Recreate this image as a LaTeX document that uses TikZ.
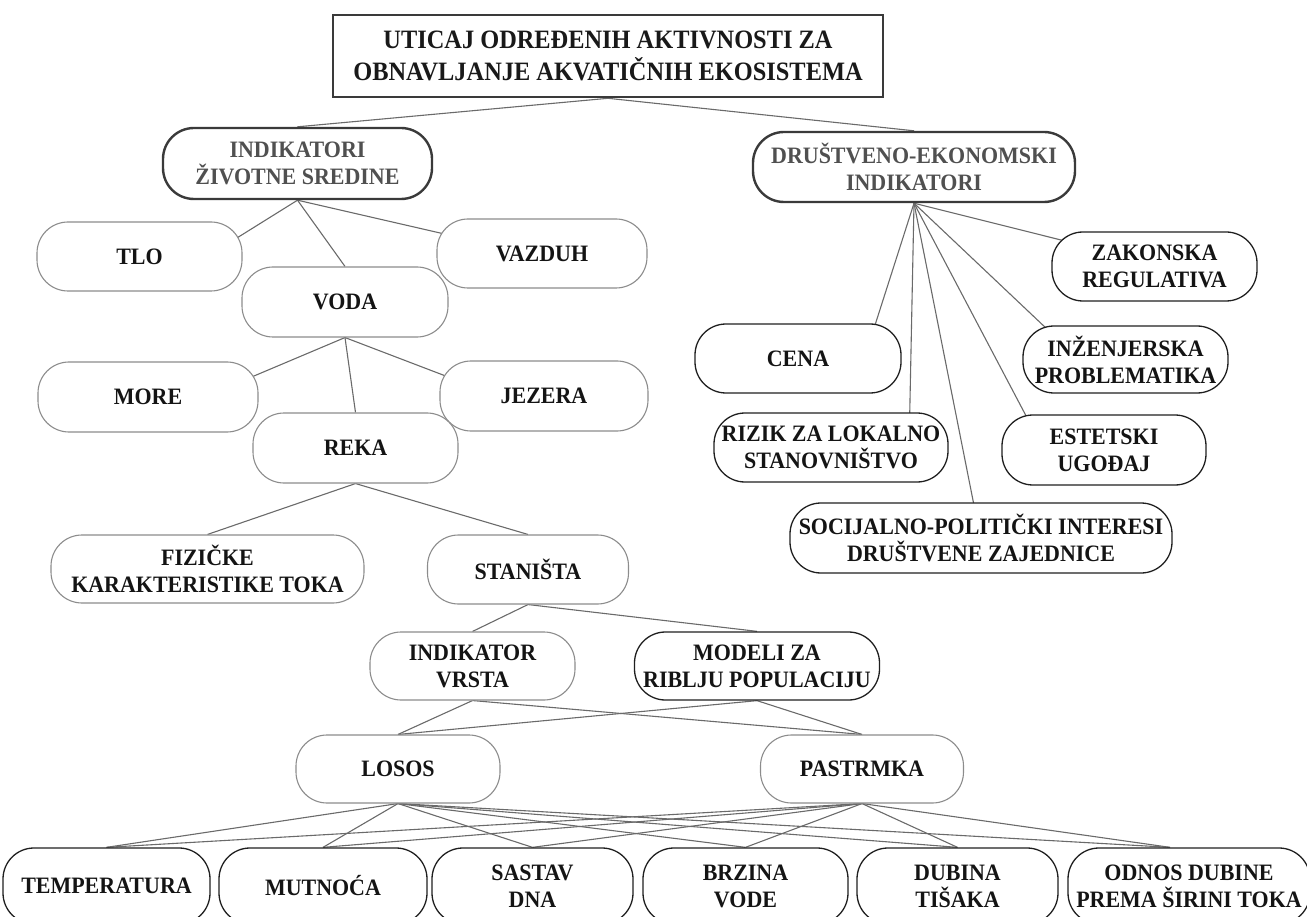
\documentclass[tikz,border=0pt]{standalone}
\usepackage{fontspec}
\setmainfont{Liberation Serif}
\newfontfamily\nodefont{Liberation Serif}[FakeStretch=0.935]
\newfontfamily\titlefont{Liberation Serif}[FakeStretch=0.92]
\usetikzlibrary{calc,backgrounds}
\definecolor{boxgray}{HTML}{8C8C8C}
\definecolor{linegray}{HTML}{6A6A6A}
\definecolor{textgray}{HTML}{505050}
\definecolor{darkedge}{HTML}{3A3A3A}
\tikzset{
  base/.style={inner sep=0pt, align=center, fill=white, rounded corners=31pt,
    font=\nodefont\bfseries\fontsize{23.5}{27}\selectfont, text=black!92},
  graybox/.style={base, draw=boxgray, line width=1.1pt},
  blackbox/.style={base, draw=black!88, line width=1.3pt},
  mainbox/.style={base, draw=darkedge, line width=2.4pt, text=textgray},
  titlebox/.style={inner sep=0pt, align=center, fill=white, draw=darkedge, line width=2.6pt,
    font=\titlefont\bfseries\fontsize{26.5}{32}\selectfont, text=black!90},
  conn/.style={draw=linegray, line width=1.1pt},
  sz/.style 2 args={minimum width=#1pt, minimum height=#2pt}
}
\begin{document}
\begin{tikzpicture}[x=1pt,y=-1pt]
\useasboundingbox (0,0) rectangle (1307,917);
% title
\node[titlebox, sz={550}{82}] (title) at (608,56) {UTICAJ ODREĐENIH AKTIVNOSTI ZA\\OBNAVLJANJE AKVATIČNIH EKOSISTEMA};
% level 1
\node[mainbox, sz={269}{71}] (ind) at (297.5,163.5) {INDIKATORI\\ŽIVOTNE SREDINE};
\node[mainbox, sz={322}{70}] (dru) at (914,167) {DRUŠTVENO-EKONOMSKI\\INDIKATORI};
% left branch
\node[graybox, sz={205}{69}] (tlo) at (139.5,256.5) {TLO};
\node[graybox, sz={210}{69}] (vazduh) at (542,253.5) {VAZDUH};
\node[graybox, sz={206}{70}] (voda) at (345,302) {VODA};
\node[graybox, sz={220}{70}] (more) at (148,397) {MORE};
\node[graybox, sz={208}{70}] (jezera) at (544,396) {JEZERA};
\node[graybox, sz={205}{70}] (reka) at (355.5,448) {REKA};
\node[graybox, sz={313}{68}] (fiz) at (207.5,569) {FIZIČKE\\KARAKTERISTIKE TOKA};
\node[graybox, sz={201}{69}] (stan) at (528,569.5) {STANIŠTA};
\node[graybox, sz={205}{68}] (ivrsta) at (472.5,666) {INDIKATOR\\VRSTA};
\node[blackbox, sz={245}{68}] (modeli) at (757,666) {MODELI ZA\\RIBLJU POPULACIJU};
\node[graybox, sz={204}{68}] (losos) at (398,769) {LOSOS};
\node[graybox, sz={203}{68}] (pastrmka) at (862,769) {PASTRMKA};
% bottom row
\node[blackbox, sz={207}{76}] (temp) at (106.5,886) {TEMPERATURA};
\node[blackbox, sz={208}{76}] (mut) at (323,886) {MUTNOĆA};
\node[blackbox, sz={201}{76}] (sas) at (532.5,886) {SASTAV\\DNA};
\node[blackbox, sz={205}{76}] (brz) at (745.5,886) {BRZINA\\VODE};
\node[blackbox, sz={201}{76}] (dub) at (957.5,886) {DUBINA\\TIŠAKA};
\node[blackbox, sz={242}{76}] (odn) at (1189,886) {ODNOS DUBINE\\PREMA ŠIRINI TOKA};
% right branch
\node[blackbox, sz={205}{69}] (zak) at (1154.5,266.5) {ZAKONSKA\\REGULATIVA};
\node[blackbox, sz={206}{69}] (cena) at (798,358.5) {CENA};
\node[blackbox, sz={205}{67}] (inz) at (1125.5,359.5) {INŽENJERSKA\\PROBLEMATIKA};
\node[blackbox, sz={234}{69}] (rizik) at (831,447.5) {RIZIK ZA LOKALNO\\STANOVNIŠTVO};
\node[blackbox, sz={204}{70}] (est) at (1104,450) {ESTETSKI\\UGOĐAJ};
\node[blackbox, sz={382}{70}] (soc) at (981,538) {SOCIJALNO-POLITIČKI INTERESI\\DRUŠTVENE ZAJEDNICE};
% connectors
\begin{scope}[on background layer]
\draw[conn] (title.south) -- (ind.north);
\draw[conn] (title.south) -- (dru.north);
\draw[conn] (ind.south) -- ($(tlo.north east)+(-8,18)$);
\draw[conn] (ind.south) -- (voda.north);
\draw[conn] (ind.south) -- ($(vazduh.north west)+(10,16)$);
\draw[conn] (voda.south) -- ($(more.north east)+(-8,16)$);
\draw[conn] (voda.south) -- (reka.north);
\draw[conn] (voda.south) -- ($(jezera.north west)+(10,17)$);
\draw[conn] (reka.south) -- (fiz.north);
\draw[conn] (reka.south) -- (stan.north);
\draw[conn] (stan.south) -- (ivrsta.north);
\draw[conn] (stan.south) -- (modeli.north);
\draw[conn] (ivrsta.south) -- (losos.north);
\draw[conn] (ivrsta.south) -- (pastrmka.north);
\draw[conn] (modeli.south) -- (losos.north);
\draw[conn] (modeli.south) -- (pastrmka.north);
\foreach \b in {temp,mut,sas,brz,dub}{
  \draw[conn] (losos.south) -- (\b.north);
  \draw[conn] (pastrmka.south) -- (\b.north);
}
\draw[conn] (losos.south) -- ($(odn.north)+(-19,0)$);
\draw[conn] (pastrmka.south) -- ($(odn.north)+(-19,0)$);
\draw[conn] (dru.south) -- ($(cena.north east)+(-28,6)$);
\draw[conn] (dru.south) -- ($(rizik.north east)+(-39,5)$);
\draw[conn] (dru.south) -- ($(soc.north)+(-7,3)$);
\draw[conn] (dru.south) -- ($(est.north west)+(26,4)$);
\draw[conn] (dru.south) -- ($(inz.north west)+(25,4)$);
\draw[conn] (dru.south) -- ($(zak.north west)+(23,12)$);
\end{scope}
\end{tikzpicture}
\end{document}
